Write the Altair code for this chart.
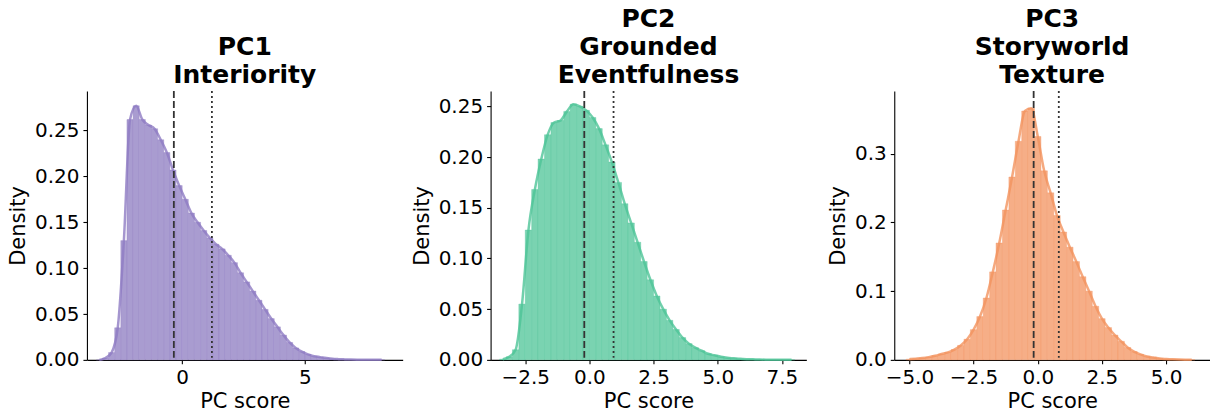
import altair as alt
import pandas as pd

# ---------------- data ----------------
BIN_W = 0.25

PC1_START = -3.5
PC1_DENS = [0.000, 0.002, 0.008, 0.035, 0.130, 0.262, 0.277, 0.262, 0.256, 0.252,
            0.240, 0.226, 0.207, 0.190, 0.175, 0.160, 0.150, 0.141, 0.133, 0.126,
            0.121, 0.114, 0.106, 0.095, 0.085, 0.075, 0.065, 0.055, 0.045, 0.036,
            0.027, 0.019, 0.013, 0.009, 0.006, 0.004, 0.003, 0.002, 0.0012, 0.0008,
            0.0005, 0.0003, 0.0002, 0.0001, 0.0001, 0.0001, 0.0001]

PC2_START = -3.5
PC2_DENS = [0.0007, 0.003, 0.010, 0.055, 0.128, 0.168, 0.198, 0.222, 0.234, 0.236,
            0.245, 0.252, 0.250, 0.246, 0.239, 0.228, 0.212, 0.195, 0.175, 0.154,
            0.135, 0.116, 0.097, 0.079, 0.063, 0.050, 0.039, 0.030, 0.022, 0.016,
            0.012, 0.009, 0.006, 0.0045, 0.003, 0.002, 0.0015, 0.001, 0.0007, 0.0005,
            0.0003, 0.0002, 0.0002, 0.0001, 0.0001, 0.0001]

PC3_START = -5.125
PC3_DENS = [0.001, 0.0018, 0.0027, 0.004, 0.006, 0.0085, 0.011, 0.015, 0.021, 0.030,
            0.044, 0.063, 0.090, 0.128, 0.170, 0.218, 0.266, 0.318, 0.362, 0.366,
            0.325, 0.275, 0.243, 0.210, 0.186, 0.164, 0.143, 0.121, 0.100, 0.078,
            0.060, 0.047, 0.036, 0.027, 0.018, 0.012, 0.008, 0.005, 0.0035, 0.002,
            0.0013, 0.0008, 0.0005, 0.0003, 0.0002]

TITLES = [["PC1", "Interiority"],
          ["PC2", "Grounded", "Eventfulness"],
          ["PC3", "Storyworld", "Texture"]]
DASHED = [-0.34, -0.20, -0.16]
DOTTED = [1.21, 0.94, 0.82]
X_DOMAINS = [[-3.88, 8.98], [-3.85, 8.45], [-5.59, 6.71]]
Y_MAX = [0.293, 0.265, 0.391]
X_TICKS = [[0, 5], [-2.5, 0, 2.5, 5, 7.5], [-5, -2.5, 0, 2.5, 5]]
Y_TICKS = [[0, 0.05, 0.10, 0.15, 0.20, 0.25],
           [0, 0.05, 0.10, 0.15, 0.20, 0.25],
           [0, 0.1, 0.2, 0.3]]
X_FMT = ["d", ".1f", ".1f"]
Y_FMT = [".2f", ".2f", ".1f"]
FILL = ["#A99CD0", "#7AD3B1", "#F6AE87"]
LINE = ["#8E7CC3", "#4DC497", "#F3935F"]

STARTS = [PC1_START, PC2_START, PC3_START]
DENS = [PC1_DENS, PC2_DENS, PC3_DENS]

FONT = "DejaVu Sans"
W, H = 316, 269


def panel(i):
    start, dens = STARTS[i], DENS[i]
    df = pd.DataFrame({
        "x0": [start + k * BIN_W for k in range(len(dens))],
        "x1": [start + (k + 1) * BIN_W for k in range(len(dens))],
        "xc": [start + (k + 0.5) * BIN_W for k in range(len(dens))],
        "d": dens,
    })
    xs = alt.Scale(domain=X_DOMAINS[i], nice=False, zero=False)
    ys = alt.Scale(domain=[0, Y_MAX[i]], nice=False)
    xax = alt.Axis(values=X_TICKS[i], format=X_FMT[i], title="PC score", titlePadding=3)
    yax = alt.Axis(values=Y_TICKS[i], format=Y_FMT[i], title="Density")

    bars = alt.Chart(df).mark_rect(
        fill=FILL[i], stroke=LINE[i], strokeWidth=0.7, strokeOpacity=0.5
    ).encode(
        x=alt.X("x0:Q", scale=xs, axis=xax),
        x2="x1:Q",
        y=alt.Y("d:Q", scale=ys, axis=yax),
        y2=alt.datum(0),
    )
    kde = alt.Chart(df).mark_line(
        color=LINE[i], strokeWidth=2.5, interpolate="monotone", opacity=0.8
    ).encode(x=alt.X("xc:Q", scale=xs), y=alt.Y("d:Q", scale=ys))

    dashed = alt.Chart(pd.DataFrame({"v": [DASHED[i]]})).mark_rule(
        color="#333333", strokeWidth=1.8, strokeDash=[7, 3]
    ).encode(x=alt.X("v:Q", scale=xs))
    dotted = alt.Chart(pd.DataFrame({"v": [DOTTED[i]]})).mark_rule(
        color="#333333", strokeWidth=1.8, strokeDash=[2, 3]
    ).encode(x=alt.X("v:Q", scale=xs))

    return alt.layer(bars, kde, dashed, dotted).properties(
        width=W, height=H,
        title=alt.TitleParams(text=TITLES[i], fontSize=25, fontWeight="bold",
                              font=FONT, lineHeight=28, offset=2,
                              anchor="middle", color="black"),
    )


chart = alt.hconcat(panel(0), panel(1), panel(2), spacing=88, bounds="flush").properties(
    padding={"left": 7, "top": 7, "right": 0, "bottom": 0}
).configure_view(stroke=None).configure_axis(
    grid=False, domainColor="black", domainWidth=1.1, tickColor="black",
    tickWidth=1.1, tickSize=4, labelPadding=4, labelFont=FONT, labelFontSize=20,
    labelColor="black", titleFont=FONT, titleFontSize=21, titleFontWeight="normal",
    titleColor="black", titlePadding=6
)

chart.save("out.html", embed_options={"renderer": "svg", "actions": False})
